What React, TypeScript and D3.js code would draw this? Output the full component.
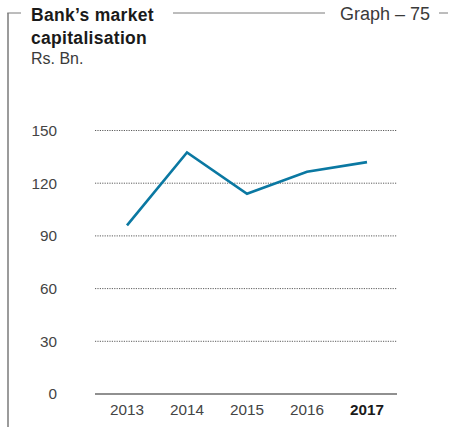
import React from "react";
import * as d3 from "d3";

const years = ["2013", "2014", "2015", "2016", "2017"];
const values = [96, 137.5, 114, 126.5, 132];
const yTicks = [0, 30, 60, 90, 120, 150];

export default function App() {
  const W = 450, H = 427;
  const x = d3.scalePoint<string>().domain(years).range([97, 397]).padding(0.5);
  const y = d3.scaleLinear().domain([0, 150]).range([394, 130.5]);
  const line = d3.line<number>().x((_, i) => x(years[i])!).y((d) => y(d));
  const font = "'Liberation Sans', Arial, Helvetica, sans-serif";
  return (
    <svg width={W} height={H} style={{ position: "absolute", left: 0, top: 0 }} fontFamily={font}>
      <rect width={W} height={H} fill="#fff" />
      {/* frame */}
      <line x1={8} y1={13} x2={8} y2={H} stroke="#7a7a7a" strokeWidth={1.5} />
      <line x1={7.25} y1={13} x2={21} y2={13} stroke="#7a7a7a" strokeWidth={1} />
      <line x1={173} y1={13} x2={325} y2={13} stroke="#7a7a7a" strokeWidth={1} />
      <line x1={439} y1={13} x2={448} y2={13} stroke="#7a7a7a" strokeWidth={1} />
      <text x={31} y={20.5} fontSize={17.5} fontWeight="bold" fill="#1a1a1a" letterSpacing={0.3}>Bank’s market</text>
      <text x={31} y={43.5} fontSize={17.5} fontWeight="bold" fill="#1a1a1a" letterSpacing={0.3}>capitalisation</text>
      <text x={31} y={64} fontSize={16} fill="#3a3a3a">Rs. Bn.</text>
      <text x={430} y={19.5} fontSize={18} fill="#3a3a3a" textAnchor="end">Graph – 75</text>
      {/* grid */}
      {yTicks.filter((t) => t > 0).map((t) => (
        <line key={t} x1={95} x2={397} y1={y(t)} y2={y(t)} stroke="#333" strokeWidth={0.8} strokeDasharray="1.2,1.2" />
      ))}
      <line x1={95} x2={397} y1={y(0)} y2={y(0)} stroke="#222" strokeWidth={1.2} />
      {yTicks.map((t) => (
        <text key={t} x={57} y={y(t)} dy="0.35em" textAnchor="end" fontSize={15.3} fill="#444">{t}</text>
      ))}
      {years.map((yr, i) => (
        <text key={yr} x={x(yr)} y={414.5} textAnchor="middle" fontSize={15.3}
          fontWeight={i === years.length - 1 ? "bold" : "normal"} fill={i === years.length - 1 ? "#1a1a1a" : "#444"}>{yr}</text>
      ))}
      <path d={line(values)!} fill="none" stroke="#0a78a2" strokeWidth={2.6} strokeLinejoin="miter" />
    </svg>
  );
}
